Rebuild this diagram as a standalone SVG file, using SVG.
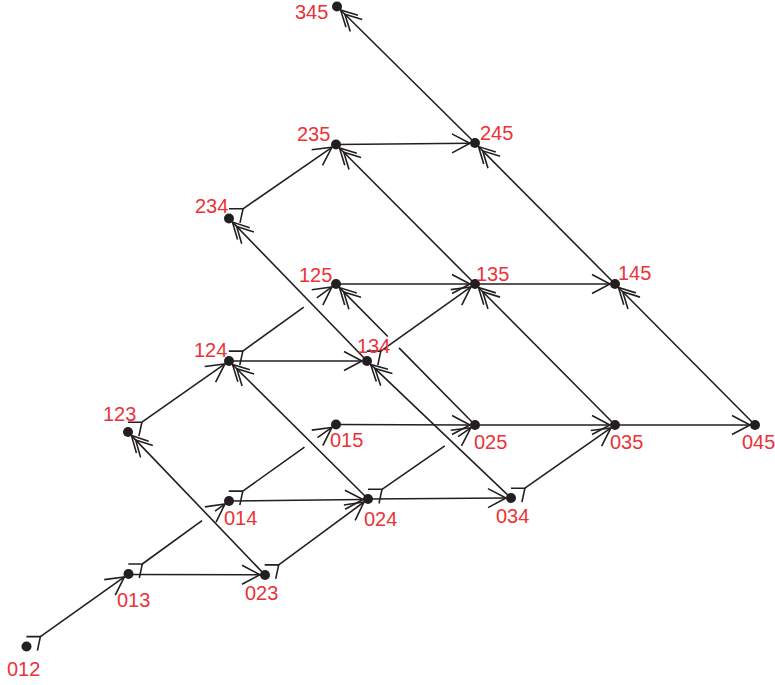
<svg xmlns="http://www.w3.org/2000/svg" width="775" height="685" viewBox="0 0 775 685">
<style>
.e{fill:none;stroke:#231f20;stroke-width:1.6}
.m{fill:none;stroke:#231f20;stroke-width:1.6}
.ur{marker-start:url(#tail);marker-end:url(#head)}
.h{marker-end:url(#head)}
.ul{marker-end:url(#head2)}
circle{fill:#231f20}
text{font-family:"Liberation Sans",Arial,sans-serif;font-size:20px;fill:#ec3237}
</style>
<defs>
<marker id="tail" markerUnits="userSpaceOnUse" markerWidth="1" markerHeight="1" overflow="visible" orient="0" refX="0" refY="0">
<path class="m" d="M-14,0 H0 L-3,14"/>
</marker>
<marker id="head" markerUnits="userSpaceOnUse" markerWidth="1" markerHeight="1" overflow="visible" orient="auto" refX="0" refY="0">
<path class="m" d="M-18,-9.5 L0,0 L-18,9.5"/>
</marker>
<marker id="head2" markerUnits="userSpaceOnUse" markerWidth="1" markerHeight="1" overflow="visible" orient="auto" refX="0" refY="0">
<path class="m" d="M-16,-8.5 L0,0 L-16,8.5 M-22,-8.5 L-6,0 L-22,8.5"/>
</marker>
</defs>
<g id="connectors">
<path class="e ur" d="M40.4,636.6 L124.4,576.9"/>
<path class="e ur" d="M142.3,564 L202,520.6 M215,511.2 L225,503.9"/>
<path class="e ur" d="M242.8,491.1 L304.5,447.1 M317.5,437.7 L331.9,427.4"/>
<path class="e ur" d="M278.7,564.9 L364,502"/>
<path class="e ur" d="M382,489.3 L444.8,445.9 M458,436.7 L470.9,427.8"/>
<path class="e ur" d="M524.9,488.2 L610.9,427.9"/>
<path class="e ur" d="M141.9,422.2 L224.9,363.9"/>
<path class="e ur" d="M242.8,351.1 L303.8,307.2 M316.8,297.8 L331.9,286.9"/>
<path class="e ur" d="M380.8,351.1 L470.9,286.9"/>
<path class="e ur" d="M243,208.8 L331.9,147.3"/>
<path class="e h" d="M128.5,574.5 L260,574.8"/>
<path class="e h" d="M229,501 L363,499.5"/>
<path class="e h" d="M368,499 L506,498"/>
<path class="e h" d="M336,424.5 L470,425"/>
<path class="e h" d="M475,425 L610,425"/>
<path class="e h" d="M615,425 L750,425"/>
<path class="e h" d="M229,361 L362,361"/>
<path class="e h" d="M336,284 L470,284"/>
<path class="e h" d="M475,284 L610,284"/>
<path class="e h" d="M336,144.5 L470,143.2"/>
<path class="e ul" d="M265,575 L131.5,435.6"/>
<path class="e ul" d="M368,499 L232.5,364.5"/>
<path class="e ul" d="M511,498 L370.6,364.4"/>
<path class="e ul" d="M367,361 L232.5,222.1"/>
<path class="e ul" d="M475,425 L399,347.9 M387.8,336.5 L339.5,287.6"/>
<path class="e ul" d="M615,425 L478.5,287.5"/>
<path class="e ul" d="M475,284 L339.5,148"/>
<path class="e ul" d="M755,425 L618.5,287.5"/>
<path class="e ul" d="M615,284 L478.5,146.6"/>
<path class="e ul" d="M475,143 L340.6,10"/>
</g>
<g id="n012"><circle cx="26.5" cy="646.5" r="5"/><text x="7" y="676">012</text></g>
<g id="n013"><circle cx="128.5" cy="574" r="5"/><text x="117" y="607">013</text></g>
<g id="n023"><circle cx="265" cy="575" r="5"/><text x="245" y="600">023</text></g>
<g id="n014"><circle cx="229" cy="501" r="5"/><text x="224" y="525">014</text></g>
<g id="n024"><circle cx="368" cy="499" r="5"/><text x="364" y="526">024</text></g>
<g id="n034"><circle cx="511" cy="498" r="5"/><text x="496" y="523">034</text></g>
<g id="n015"><circle cx="336" cy="424.5" r="5"/><text x="330" y="447">015</text></g>
<g id="n025"><circle cx="475" cy="425" r="5"/><text x="474" y="449">025</text></g>
<g id="n035"><circle cx="615" cy="425" r="5"/><text x="610" y="449">035</text></g>
<g id="n045"><circle cx="755" cy="425" r="5"/><text x="742" y="449">045</text></g>
<g id="n123"><circle cx="128" cy="432" r="5"/><text x="103" y="421">123</text></g>
<g id="n124"><circle cx="229" cy="361" r="5"/><text x="194" y="356.5">124</text></g>
<g id="n134"><circle cx="367" cy="361" r="5"/><text x="357" y="353">134</text></g>
<g id="n125"><circle cx="336" cy="284" r="5"/><text x="299" y="282">125</text></g>
<g id="n135"><circle cx="475" cy="284" r="5"/><text x="476" y="281">135</text></g>
<g id="n145"><circle cx="615" cy="284" r="5"/><text x="618" y="280">145</text></g>
<g id="n234"><circle cx="229" cy="218.5" r="5"/><text x="195" y="213">234</text></g>
<g id="n235"><circle cx="336" cy="144.5" r="5"/><text x="297" y="140.5">235</text></g>
<g id="n245"><circle cx="475" cy="143" r="5"/><text x="480" y="140">245</text></g>
<g id="n345"><circle cx="337" cy="6.5" r="5"/><text x="295" y="18.5">345</text></g>
</svg>
